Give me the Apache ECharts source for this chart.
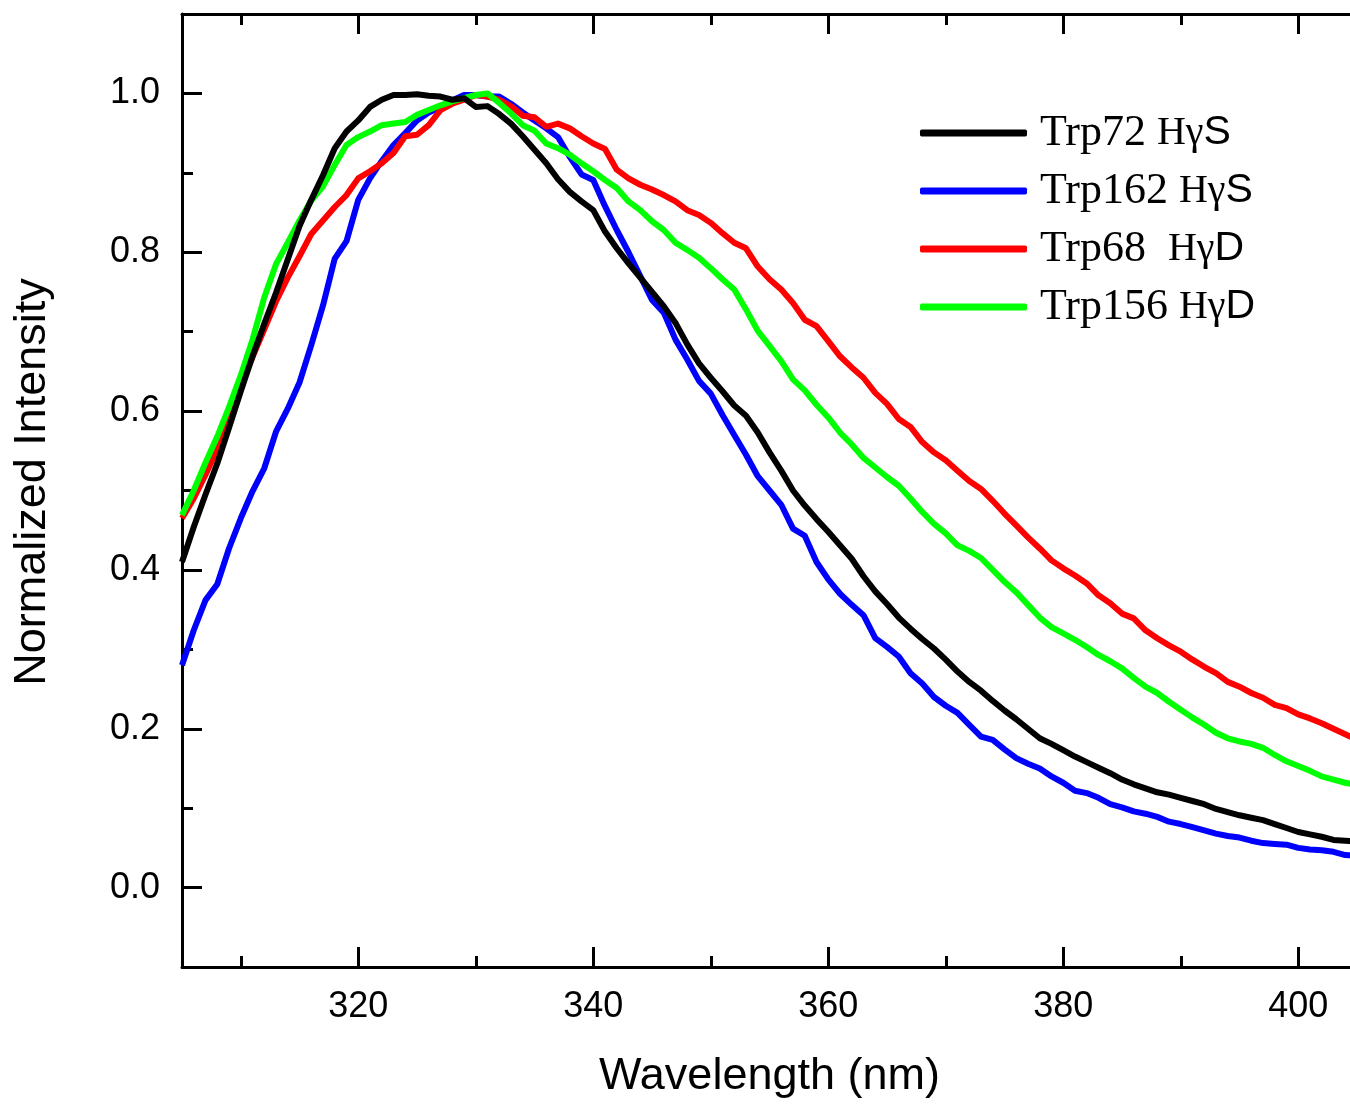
<!DOCTYPE html>
<html lang="en">
  <head>
    <meta charset="UTF-8" />
    <title>Normalized Intensity - Trp emission</title>
    <script src="https://cdn.jsdelivr.net/npm/echarts@6.0.0/dist/echarts.min.js"></script>
    <style>
      html, body { margin: 0; padding: 0; overflow: hidden; background: #fff; }
      #chart { width: 1360px; height: 1104px; }
    </style>
  </head>
  <body>
    <div id="chart"></div>
  </body>
</html>
<script>
  // wavelength (nm), one point per nm
  const wavelength = [
    305, 306, 307, 308, 309, 310, 311, 312, 313, 314,
    315, 316, 317, 318, 319, 320, 321, 322, 323, 324,
    325, 326, 327, 328, 329, 330, 331, 332, 333, 334,
    335, 336, 337, 338, 339, 340, 341, 342, 343, 344,
    345, 346, 347, 348, 349, 350, 351, 352, 353, 354,
    355, 356, 357, 358, 359, 360, 361, 362, 363, 364,
    365, 366, 367, 368, 369, 370, 371, 372, 373, 374,
    375, 376, 377, 378, 379, 380, 381, 382, 383, 384,
    385, 386, 387, 388, 389, 390, 391, 392, 393, 394,
    395, 396, 397, 398, 399, 400, 401, 402, 403, 404, 405
  ];

  const trp72 = [
    0.410, 0.454, 0.495, 0.534, 0.579, 0.625, 0.669, 0.710, 0.749, 0.791,
    0.833, 0.866, 0.897, 0.931, 0.952, 0.966, 0.983, 0.992, 0.998, 0.998,
    0.999, 0.997, 0.996, 0.992, 0.994, 0.983, 0.984, 0.974, 0.962, 0.946,
    0.929, 0.912, 0.892, 0.876, 0.864, 0.853, 0.826, 0.805, 0.786, 0.768,
    0.750, 0.732, 0.711, 0.684, 0.660, 0.642, 0.625, 0.607, 0.594, 0.573,
    0.548, 0.525, 0.500, 0.481, 0.464, 0.448, 0.431, 0.414, 0.392, 0.373,
    0.357, 0.340, 0.326, 0.313, 0.301, 0.287, 0.272, 0.259, 0.248, 0.235,
    0.223, 0.212, 0.200, 0.188, 0.181, 0.173, 0.165, 0.158, 0.151, 0.144,
    0.136, 0.130, 0.125, 0.120, 0.117, 0.113, 0.109, 0.105, 0.099, 0.095,
    0.091, 0.088, 0.085, 0.080, 0.075, 0.070, 0.067, 0.064, 0.060, 0.059, 0.058
  ];

  const trp162 = [
    0.280, 0.324, 0.362, 0.382, 0.427, 0.465, 0.499, 0.528, 0.574, 0.603,
    0.636, 0.683, 0.733, 0.792, 0.814, 0.866, 0.893, 0.915, 0.935, 0.950,
    0.966, 0.976, 0.983, 0.991, 0.998, 0.998, 0.996, 0.996, 0.987, 0.976,
    0.966, 0.956, 0.945, 0.920, 0.898, 0.891, 0.858, 0.828, 0.800, 0.770,
    0.740, 0.724, 0.690, 0.665, 0.638, 0.622, 0.595, 0.570, 0.545, 0.518,
    0.500, 0.482, 0.452, 0.443, 0.410, 0.388, 0.370, 0.356, 0.343, 0.314,
    0.303, 0.291, 0.270, 0.257, 0.240, 0.229, 0.220, 0.205, 0.190, 0.186,
    0.174, 0.163, 0.156, 0.150, 0.140, 0.132, 0.122, 0.119, 0.113, 0.105,
    0.101, 0.096, 0.093, 0.089, 0.083, 0.080, 0.076, 0.072, 0.068, 0.065,
    0.063, 0.059, 0.056, 0.055, 0.054, 0.050, 0.048, 0.047, 0.045, 0.041, 0.040
  ];

  const trp68 = [
    0.465, 0.490, 0.520, 0.552, 0.590, 0.632, 0.668, 0.703, 0.738, 0.768,
    0.795, 0.823, 0.840, 0.857, 0.872, 0.893, 0.902, 0.912, 0.925, 0.946,
    0.948, 0.960, 0.979, 0.987, 0.992, 0.998, 0.996, 0.992, 0.984, 0.972,
    0.970, 0.958, 0.962, 0.956, 0.946, 0.937, 0.930, 0.904, 0.893, 0.885,
    0.879, 0.872, 0.864, 0.853, 0.847, 0.837, 0.824, 0.812, 0.805, 0.782,
    0.766, 0.753, 0.736, 0.715, 0.707, 0.688, 0.669, 0.655, 0.642, 0.623,
    0.609, 0.590, 0.580, 0.561, 0.548, 0.538, 0.525, 0.512, 0.502, 0.487,
    0.471, 0.456, 0.441, 0.427, 0.412, 0.402, 0.393, 0.383, 0.368, 0.358,
    0.345, 0.339, 0.324, 0.314, 0.305, 0.297, 0.287, 0.278, 0.270, 0.259,
    0.253, 0.245, 0.239, 0.230, 0.226, 0.218, 0.213, 0.207, 0.200, 0.193, 0.186
  ];

  const trp156 = [
    0.469, 0.500, 0.535, 0.568, 0.605, 0.645, 0.690, 0.743, 0.785, 0.812,
    0.840, 0.865, 0.883, 0.910, 0.935, 0.945, 0.952, 0.960, 0.962, 0.964,
    0.973, 0.979, 0.985, 0.990, 0.994, 0.998, 1.000, 0.988, 0.975, 0.960,
    0.953, 0.937, 0.931, 0.923, 0.912, 0.902, 0.891, 0.881, 0.864, 0.853,
    0.839, 0.828, 0.812, 0.803, 0.793, 0.780, 0.766, 0.753, 0.728, 0.701,
    0.682, 0.663, 0.640, 0.626, 0.608, 0.592, 0.573, 0.558, 0.541, 0.529,
    0.517, 0.506, 0.490, 0.473, 0.458, 0.446, 0.431, 0.424, 0.415, 0.400,
    0.385, 0.372, 0.356, 0.340, 0.328, 0.320, 0.312, 0.303, 0.293, 0.285,
    0.276, 0.264, 0.253, 0.245, 0.234, 0.224, 0.214, 0.205, 0.195, 0.188,
    0.184, 0.181, 0.176, 0.167, 0.159, 0.153, 0.147, 0.140, 0.136, 0.132, 0.129
  ];

  // legend labels split into parts: [prefix, "Hγ", letter]
  const seriesNames = ["Trp72 HγS", "Trp162 HγS", "Trp68  HγD", "Trp156 HγD"];
  const legendParts = [
    ["Trp72 ", "Hγ", "S"],
    ["Trp162 ", "Hγ", "S"],
    ["Trp68  ", "Hγ", "D"],
    ["Trp156 ", "Hγ", "D"]
  ];

  const xMajorTicks = [320, 340, 360, 380, 400];
  const xMinorTicks = [310, 330, 350, 370, 390];
  const yMajorTicks = [0, 0.2, 0.4, 0.6, 0.8, 1.0];
  const yMinorTicks = [0.1, 0.3, 0.5, 0.7, 0.9];

  const sans = "'Liberation Sans', Arial, sans-serif";
  const serif = "'Liberation Serif', 'Times New Roman', serif";

  const chart = echarts.init(document.getElementById("chart"));

  const toPairs = (ys) => wavelength.map((w, i) => [w, ys[i]]);

  const axisLine = { show: true, onZero: false, lineStyle: { color: "#000", width: 3 } };
  const noLine = { show: false, onZero: false };
  const majorTick = (vals) => ({
    show: true, inside: true, length: 20, customValues: vals,
    lineStyle: { color: "#000", width: 3 }
  });
  const minorTick = (vals) => ({
    show: true, inside: true, length: 11, customValues: vals,
    lineStyle: { color: "#000", width: 3 }
  });
  const xBase = { type: "value", min: 305, max: 405, splitLine: { show: false } };
  const yBase = { type: "value", min: -0.1, max: 1.1, splitLine: { show: false } };

  const lineSeries = (name, ys, color) => ({
    name: name,
    type: "line",
    data: toPairs(ys),
    showSymbol: false,
    color: color,
    lineStyle: { color: color, width: 6, join: "round" },
    animation: false
  });

  const option = {
    animation: false,
    backgroundColor: "#fff",
    grid: { left: 182, right: 3, top: 14, bottom: 134, containLabel: false },
    xAxis: [
      Object.assign({}, xBase, {
        position: "bottom",
        axisLine: axisLine,
        axisTick: majorTick(xMajorTicks),
        axisLabel: {
          customValues: xMajorTicks, fontSize: 36, color: "#000",
          fontFamily: sans, margin: 22
        },
        name: "Wavelength (nm)",
        nameLocation: "middle",
        nameGap: 87,
        nameTextStyle: { fontSize: 45, color: "#000", fontFamily: sans }
      }),
      Object.assign({}, xBase, {
        position: "bottom",
        axisLine: noLine,
        axisTick: minorTick(xMinorTicks),
        axisLabel: { show: false }
      }),
      Object.assign({}, xBase, {
        position: "top",
        axisLine: axisLine,
        axisTick: majorTick(xMajorTicks),
        axisLabel: { show: false }
      }),
      Object.assign({}, xBase, {
        position: "top",
        axisLine: noLine,
        axisTick: minorTick(xMinorTicks),
        axisLabel: { show: false }
      })
    ],
    yAxis: [
      Object.assign({}, yBase, {
        position: "left",
        axisLine: axisLine,
        axisTick: majorTick(yMajorTicks),
        axisLabel: {
          customValues: yMajorTicks, fontSize: 36, color: "#000",
          fontFamily: sans, margin: 22,
          formatter: (v) => v.toFixed(1)
        }
      }),
      Object.assign({}, yBase, {
        position: "left",
        axisLine: noLine,
        axisTick: minorTick(yMinorTicks),
        axisLabel: { show: false }
      })
    ],
    legend: {
      orient: "vertical",
      left: 920,
      top: 108,
      padding: 0,
      itemWidth: 107,
      itemHeight: 7,
      itemGap: 8,
      icon: "roundRect",
      data: seriesNames,
      formatter: (name) => {
        const p = legendParts[seriesNames.indexOf(name)];
        return "{a|" + p[0] + "}{b|" + p[1] + "}{c|" + p[2] + "}";
      },
      textStyle: {
        color: "#000",
        lineHeight: 50,
        rich: {
          a: { fontFamily: serif, fontSize: 44, color: "#000", lineHeight: 50, padding: [0, 0, 0, 8] },
          b: { fontFamily: serif, fontSize: 40, color: "#000", lineHeight: 50 },
          c: { fontFamily: sans, fontSize: 41, color: "#000", lineHeight: 50 }
        }
      }
    },
    graphic: [
      {
        type: "text",
        x: 33,
        y: 482,
        rotation: Math.PI / 2,
        style: {
          text: "Normalized Intensity",
          font: "45px 'Liberation Sans', Arial, sans-serif",
          fill: "#000",
          align: "center",
          verticalAlign: "middle"
        }
      }
    ],
    // drawing order: blue, red, green, black on top
    series: [
      lineSeries(seriesNames[1], trp162, "#0000ff"),
      lineSeries(seriesNames[2], trp68, "#ff0000"),
      lineSeries(seriesNames[3], trp156, "#00ff00"),
      lineSeries(seriesNames[0], trp72, "#000000")
    ]
  };

  chart.setOption(option);
</script>
